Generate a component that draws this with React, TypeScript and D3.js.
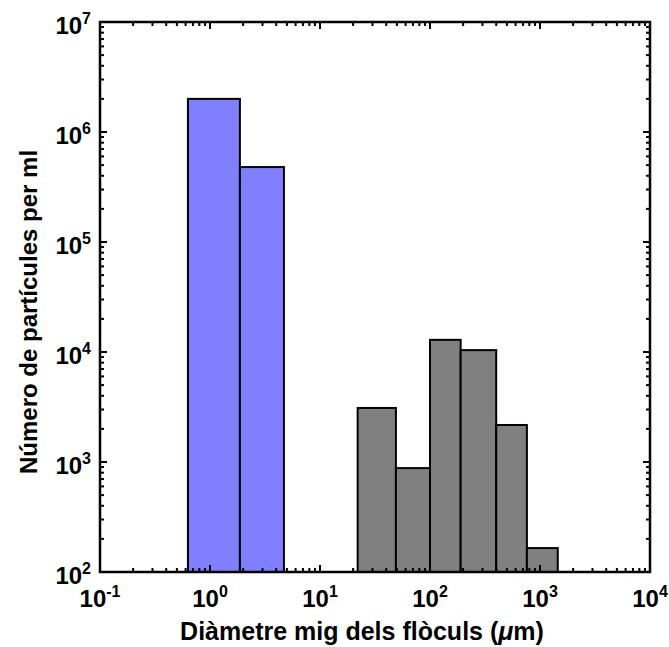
import React, { useEffect, useRef } from "react";
import * as d3 from "d3";

// particle size distribution, two bins of primary particles and six bins of flocs
const blueEdges = [0.63, 1.87, 4.7];
const blueCounts = [2.0e6, 4.8e5];
const grayEdges = [22, 49, 100, 190, 400, 760, 1450];
const grayCounts = [3100, 880, 12900, 10400, 2170, 165];

const xDecades = [-1, 0, 1, 2, 3, 4];
const yDecades = [2, 3, 4, 5, 6, 7];

const xTitle = "Diàmetre mig dels flòculs (";
const yTitle = "Número de partícules per ml";

const App = () => {
  const ref = useRef<SVGSVGElement>(null);

  useEffect(() => {
    drawChart();
  }, []);

  const drawChart = () => {
    const w = 669;
    const h = 647;
    const m = { left: 100, right: 19, top: 22, bottom: 75 };
    const svg = d3.select(ref.current);
    svg.selectAll("*").remove();
    svg.attr("width", w).attr("height", h);

    const x = d3.scaleLog().domain([0.1, 1e4]).range([m.left, w - m.right]);
    const y = d3.scaleLog().domain([100, 1e7]).range([h - m.bottom, m.top]);

    const font = "'Liberation Sans', Arial, sans-serif";

    const bars = (edges: number[], counts: number[], color: string) => {
      svg.append("g")
        .selectAll("rect")
        .data(counts)
        .enter()
        .append("rect")
        .attr("x", (d, i) => x(edges[i]))
        .attr("width", (d, i) => x(edges[i + 1]) - x(edges[i]))
        .attr("y", (d) => y(d))
        .attr("height", (d) => y(100) - y(d))
        .attr("fill", color)
        .attr("stroke", "#000")
        .attr("stroke-width", 2);
    };
    bars(blueEdges, blueCounts, "#8080ff");
    bars(grayEdges, grayCounts, "#808080");

    // tick marks pointing inward on all four sides
    const minor = (decades: number[]) => {
      const out: { v: number; major: boolean }[] = [];
      decades.forEach((e, i) => {
        out.push({ v: Math.pow(10, e), major: true });
        if (i < decades.length - 1) {
          for (let k = 2; k <= 9; k++) out.push({ v: k * Math.pow(10, e), major: false });
        }
      });
      return out;
    };
    const xt = minor(xDecades);
    const yt = minor(yDecades);
    const x0 = m.left, x1 = w - m.right, y0 = h - m.bottom, y1 = m.top;
    const tk = svg.append("g").attr("stroke", "#000").attr("stroke-width", 2);
    xt.forEach((t) => {
      const len = t.major ? 7 : 4;
      const px = x(t.v);
      tk.append("line").attr("x1", px).attr("x2", px).attr("y1", y0).attr("y2", y0 - len);
      tk.append("line").attr("x1", px).attr("x2", px).attr("y1", y1).attr("y2", y1 + len);
    });
    yt.forEach((t) => {
      const len = t.major ? 7 : 4;
      const py = y(t.v);
      tk.append("line").attr("x1", x0).attr("x2", x0 + len).attr("y1", py).attr("y2", py);
      tk.append("line").attr("x1", x1).attr("x2", x1 - len).attr("y1", py).attr("y2", py);
    });

    svg.append("rect")
      .attr("x", x0).attr("y", y1)
      .attr("width", x1 - x0).attr("height", y0 - y1)
      .attr("fill", "none").attr("stroke", "#000").attr("stroke-width", 2.5);

    // tick labels 10^n
    const power = (g: any, e: number) => {
      g.append("tspan").text("10");
      g.append("tspan").attr("font-size", 16).attr("dy", -10).text(String(e));
    };
    xDecades.forEach((e) => {
      const t = svg.append("text")
        .attr("x", x(Math.pow(10, e)))
        .attr("y", 607)
        .attr("text-anchor", "middle")
        .attr("font-family", font)
        .attr("font-weight", "bold")
        .attr("font-size", 24);
      power(t, e);
    });
    yDecades.forEach((e) => {
      const t = svg.append("text")
        .attr("x", 91)
        .attr("y", y(Math.pow(10, e)) + 12)
        .attr("text-anchor", "end")
        .attr("font-family", font)
        .attr("font-weight", "bold")
        .attr("font-size", 24);
      power(t, e);
    });

    const xt2 = svg.append("text")
      .attr("x", 362)
      .attr("y", 640)
      .attr("text-anchor", "middle")
      .attr("font-family", font)
      .attr("font-weight", "bold")
      .attr("font-size", 25);
    xt2.append("tspan").text(xTitle);
    xt2.append("tspan").attr("font-style", "italic").text("μ");
    xt2.append("tspan").text("m)");

    svg.append("text")
      .attr("transform", "translate(37,312) rotate(-90)")
      .attr("text-anchor", "middle")
      .attr("font-family", font)
      .attr("font-weight", "bold")
      .attr("font-size", 24)
      .text(yTitle);
  };

  return (
    <div style={{ position: "absolute", left: 0, top: 0 }}>
      <svg ref={ref} style={{ display: "block" }}></svg>
    </div>
  );
};

export default App;
